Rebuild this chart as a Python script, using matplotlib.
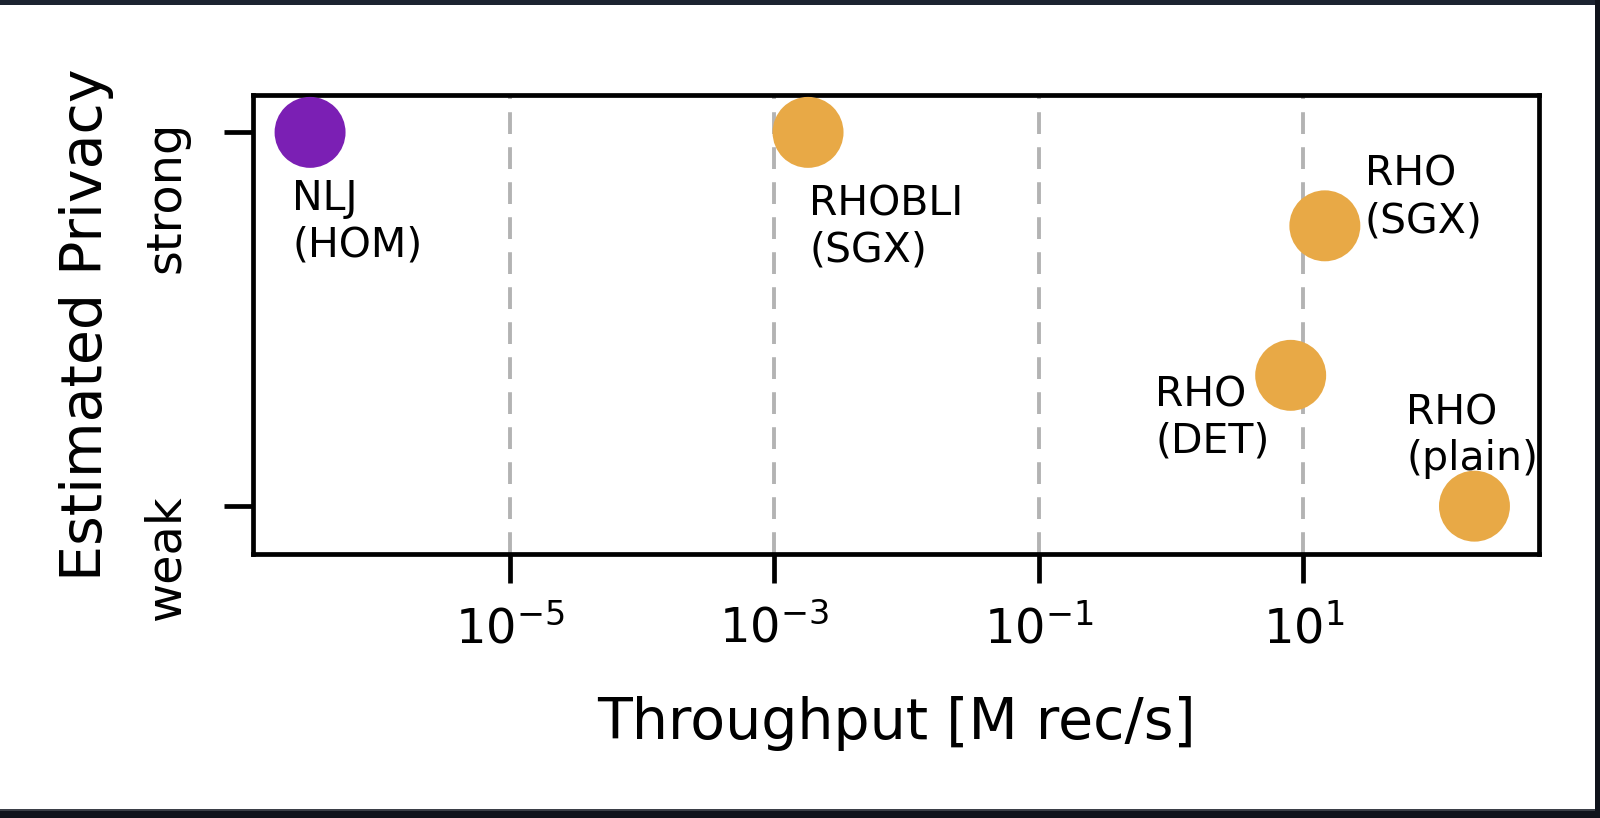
import numpy as np
import matplotlib.pyplot as plt
import matplotlib.transforms as mtransforms
from matplotlib.patches import Rectangle


plt.rcParams['font.family'] = ['DejaVu Sans']

# data
systems = ['NLJ\n(HOM)', 'RHOBLI\n(SGX)', 'RHO\n(SGX)', 'RHO\n(DET)', 'RHO\n(plain)']
throughput = [3.1e-7, 1.8e-3, 14.5, 8.0, 196.0]   # M rec/s
privacy = [1.0, 1.0, 0.75, 0.35, 0.0]             # 0 = weak, 1 = strong
colors = ['#7b1fb4', '#e8a946', '#e8a946', '#e8a946', '#e8a946']
privacy_ticks = [0.0, 1.0]
privacy_labels = ['weak', 'strong']
xtick_vals = [1e-5, 1e-3, 1e-1, 1e1]

# label offsets in pixels (dx, dy) and alignment
offsets = [(-18, -47, 'left'), (1, -52, 'left'), (40, 71, 'left'),
           (-21, 0, 'right'), (-68, 113, 'left')]

fig = plt.figure(figsize=(16, 8.18), dpi=100)
ax = fig.add_axes([253/1600, 1-554/818, (1539-253)/1600, (554-95)/818])

ax.scatter(throughput, privacy, s=2610, c=colors, linewidths=0, zorder=3)

for name, x, y, (dx, dy, ha) in zip(systems, throughput, privacy, offsets):
    ax.annotate(name, (x, y), xytext=(dx, dy), textcoords='offset pixels',
                ha=ha, va='top', fontsize=29.5, multialignment='left')

ax.set_xscale('log')
ax.set_xlim(10**-6.94, 10**2.78)
ax.set_ylim(-0.128, 1.10)
ax.set_xticks(xtick_vals)
ax.xaxis.set_minor_locator(plt.NullLocator())
ax.set_yticks(privacy_ticks)
ax.set_yticklabels(privacy_labels, rotation=90, va='top')
ax.tick_params(labelsize=34.5, length=21, width=3.4, pad=16)
ax.tick_params(axis='y', pad=25)
off = mtransforms.ScaledTranslation(0, 12/100, fig.dpi_scale_trans)
for lab in ax.get_yticklabels():
    lab.set_transform(lab.get_transform() + off)

ax.grid(True, axis='x', color='#b3b3b3', lw=2.8, linestyle=(0, (5.6, 3.4)))
ax.set_axisbelow(True)
for sp in ax.spines.values():
    sp.set_linewidth(3.4)

ax.set_xlabel('Throughput [M rec/s]', fontsize=41, labelpad=31)
ax.set_ylabel('Estimated Privacy', fontsize=41, labelpad=20)

# dark screenshot frame
fig.add_artist(Rectangle((0, 1-5/818), 1, 5/818, transform=fig.transFigure, color='#1c2330', lw=0))
fig.add_artist(Rectangle((0, 0), 1, 8/818, transform=fig.transFigure, color='#10131b', lw=0))
fig.add_artist(Rectangle((0, 7/818), 1, 2/818, transform=fig.transFigure, color='#3b3f47', lw=0))
fig.add_artist(Rectangle((1-5/1600, 0), 5/1600, 1, transform=fig.transFigure, color='#10131b', lw=0))

plt.savefig('out.png', dpi=100)
